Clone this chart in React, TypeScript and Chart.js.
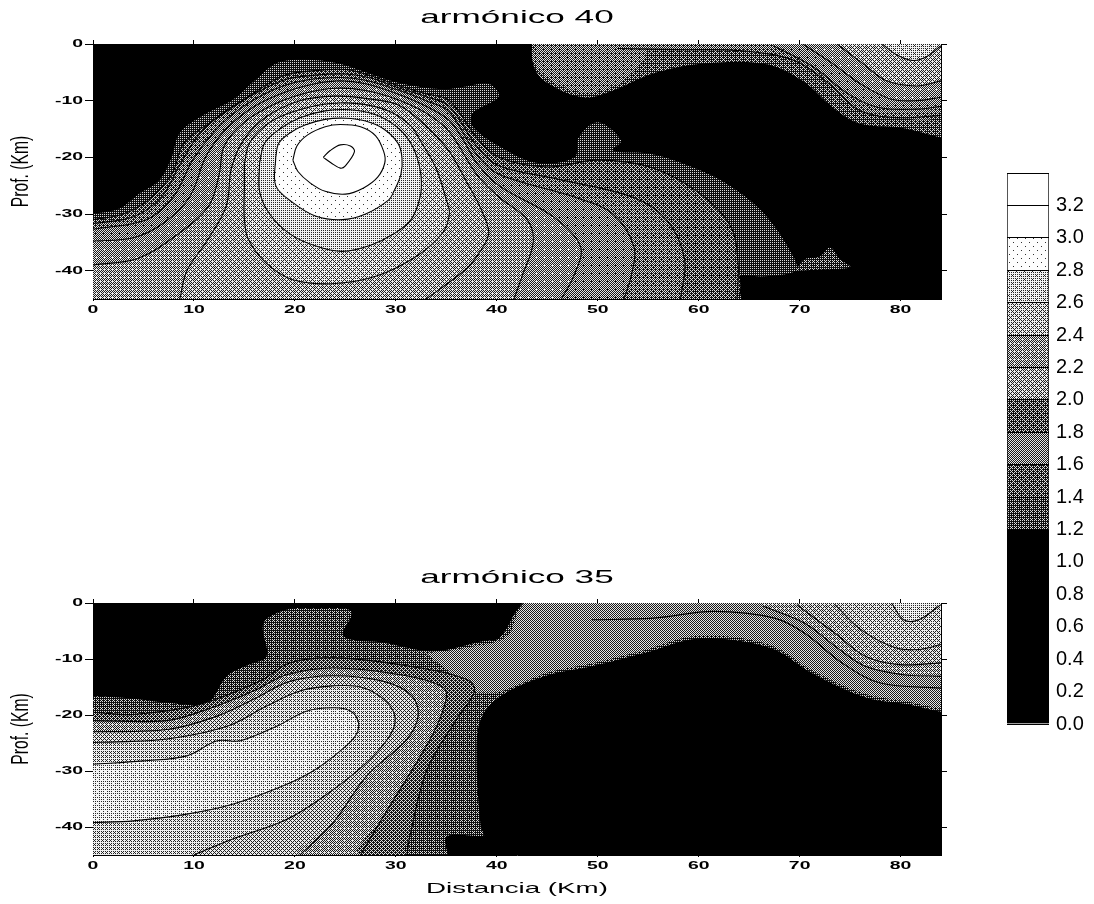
import React, { useEffect, useRef } from "react";
import { Chart, registerables } from "chart.js";

Chart.register(...registerables);

type P = [number, number];

// ---------- ticks / scale ----------
const xTickValues = [0, 10, 20, 30, 40, 50, 60, 70, 80];
const yTickValues = [-40, -30, -20, -10, 0];
const barLevels = [0, 0.2, 0.4, 0.6, 0.8, 1.0, 1.2, 1.4, 1.6, 1.8, 2.0, 2.2, 2.4, 2.6, 2.8, 3.0, 3.2, 3.4];
const barGrays = [0, 0, 0, 0, 0, 0, 0.3, 0.35, 0.5, 0.35, 0.6, 0.55, 0.65, 0.72, 0.97, 1, 1];

// ---------- armónico 40 : contours ----------
const a40Frame: P[] = [[0, 0], [84, 0], [84, -45], [0, -45]];
const a40Edge: P[] = [[-2, -30.2], [2.4, -29.2], [4.5, -26.5], [6.6, -24], [7.8, -20], [8.6, -15.7], [11, -12.5], [13.9, -9.8], [16, -6.5], [18.2, -3.4], [21, -2.8], [24.2, -3.4], [27, -5], [30.3, -6.9], [34.6, -8], [37, -7.5], [39.2, -7], [40.2, -9.2], [37.6, -12.2], [37.6, -14.5], [40.2, -18], [44, -21], [47.7, -20], [48.1, -16.5], [50, -13.8], [52.3, -17], [51.5, -18.8], [55.3, -19.4], [59, -21.5], [62.8, -24.7], [66.5, -30], [69.4, -37.6], [69.6, -40], [66.5, -41], [63.9, -41.2], [64, -47], [-3, -48]];
const a40K: P[] = [[0, -31], [3, -30], [5.5, -27.5], [7.8, -23], [9, -17.5], [11.5, -14], [14, -11], [16.5, -8], [19, -5.5], [22, -4.7], [25, -4.5], [27.5, -5.6], [30, -7.2], [33, -8.8], [35.3, -10], [38, -16.5], [40.2, -20], [45, -21.7], [50, -20.5], [55.3, -21.8], [60.2, -26.5], [63.2, -32.3], [63.9, -38.8], [63.8, -45]];
const a40J: P[] = [[0, -31.7], [4, -30.5], [6.8, -27], [8.7, -21], [10.5, -16], [13, -12], [16, -8.8], [19, -6.3], [22, -5.5], [25, -5.3], [27.5, -6], [30, -7.6], [33, -9.3], [35.3, -11], [38, -18], [40.2, -21.5], [45.9, -23.8], [53.4, -27], [56.8, -31], [58.6, -38], [58.2, -45]];
const a40I: P[] = [[0, -32.7], [5.3, -31], [8, -26.9], [9.9, -20.4], [12, -15.5], [14.5, -11.5], [18, -8], [21, -6.4], [24.5, -5.9], [27, -6.4], [30, -8], [33, -10], [35.3, -12], [38, -19.5], [40.2, -23], [47.7, -27], [51.5, -30], [53.6, -35.9], [53.3, -41], [52.6, -45]];
const a40H: P[] = [[0, -34.8], [4, -34.2], [7, -31.6], [9.6, -26.9], [11.2, -19.8], [13.2, -15], [16, -11], [19, -8.5], [22, -7], [24.5, -6.5], [27, -7], [30, -8.7], [33, -11], [35.3, -13.5], [36.7, -17], [38, -21], [40.2, -25], [45.6, -30.5], [48.3, -35.8], [47.6, -41], [46.4, -45]];
const a40G: P[] = [[0, -39], [4.5, -37.8], [8.6, -33.3], [11.5, -28.5], [12.5, -23], [13, -18], [15, -13.8], [18, -10.6], [21, -8.7], [24, -7.8], [27, -8.2], [30, -9.7], [33, -12.2], [35.3, -15.5], [38, -23], [40.2, -27], [43, -31], [43.6, -35], [42.5, -41], [41.7, -45]];
const a40F: P[] = [[8.6, -45], [9.3, -40], [11.2, -35], [13.2, -28.6], [13.7, -22], [14.9, -17], [17.2, -12.8], [20.5, -10], [24, -9.2], [27, -9.6], [30.3, -10.8], [33, -14.5], [35.3, -19], [36.9, -24], [38.4, -29], [39.2, -33.4], [38.2, -37], [36.9, -39.8], [33, -45]];
const a40E: P[] = [[15, -21], [15.5, -17.5], [17, -14.5], [19, -12.5], [22, -10.9], [24.5, -10.4], [27, -10.7], [29.5, -12], [31.5, -14.5], [32.4, -17], [34, -22], [35, -27.5], [35.3, -30], [34.6, -33.4], [32, -37.5], [28, -41], [23.7, -42.3], [19.8, -41.6], [17.2, -38.7], [15.4, -34.5], [15, -31], [15, -25], [15, -21]];
const a40D: P[] = [[16.5, -21], [17, -17.5], [18.5, -15], [20.5, -13], [23, -11.8], [25.5, -11.6], [28, -12.5], [30, -14.5], [31.3, -17], [32.1, -20], [32.5, -23.4], [32.4, -27], [31.5, -31], [29.8, -33.5], [27.5, -35.5], [24.7, -36.6], [22, -35.6], [19.5, -33.5], [17.5, -30], [16.5, -26], [16.5, -21]];
const a40C: P[] = [[18.1, -20], [18.4, -17.5], [19.5, -15.7], [21, -14.3], [23, -13.3], [25, -13.1], [27, -13.6], [28.8, -15], [30.2, -17.5], [30.6, -20], [30.5, -23], [29.8, -26], [29.3, -27.5], [27, -30], [24.7, -31], [22.1, -30.4], [19.8, -28], [18.1, -25], [18.1, -20]];
const a40B: P[] = [[19.8, -20.5], [20.2, -18], [21.3, -16], [23, -14.6], [24.5, -14.2], [26.5, -14.6], [28, -16.2], [28.8, -19], [28.9, -21], [28.2, -23.5], [26.8, -25.4], [25, -26.5], [23, -26], [21.5, -24.5], [20.3, -22.5], [19.8, -20.5]];
const a40A: P[] = [[22.8, -20], [23.5, -18.8], [24.5, -17.8], [25.5, -18], [25.9, -19], [25, -21.5], [24.5, -21.9], [23.6, -21], [22.8, -20]];
const a40Tip: P[] = [[69.6, -40], [70.5, -38], [72, -37.5], [73, -35.9], [74, -38], [75, -39.4], [72, -39.8]];
const a40BandEdge: P[] = [[43.5, 2], [43.6, -3.5], [44.7, -6.5], [48.5, -9.4], [51.5, -8.2], [55.3, -5.3], [60.2, -3.5], [66.5, -3.5], [70.3, -6.5], [73.3, -11.2], [75.9, -14], [79.7, -14.7], [87, -16], [87, 3]];
const a40Blob: P[] = [[44, 1], [43.6, -3], [45, -6], [48.5, -8.5], [51.5, -7.5], [54, -4], [55.5, 1]];
const a40R5: P[] = [[52, -0.8], [58, -1], [64.3, -1.2], [69.6, -3], [73.3, -7.6], [76, -11.8], [79.7, -13], [84, -12.6]];
const a40R4: P[] = [[67.4, -0.3], [71.4, -4.1], [74.8, -8.8], [77.8, -11.2], [81.6, -11.5], [84, -11]];
const a40R3: P[] = [[70.3, 0], [73.3, -3.5], [76, -7], [79, -9.7], [81.6, -10], [84, -9.4]];
const a40R2: P[] = [[73.7, 0], [76.3, -3.5], [78.6, -6.5], [81.6, -7.4], [84, -6.5]];
const a40R1: P[] = [[78.2, 0], [79.5, -1.8], [81.2, -2.9], [82.5, -2.3], [84, -0.3]];

// ---------- armónico 35 : contours ----------
const a35Frame: P[] = [[0, 0], [84, 0], [84, -45], [0, -45]];
const a35Edge: P[] = [[-2, -16.4], [3.5, -17], [7.3, -17.8], [11.3, -17.8], [13.3, -13], [15.5, -11], [17.2, -9.5], [16.9, -3.6], [19.2, -1.2], [22, -1], [25.6, -1.5], [24.8, -5.9], [28.8, -7.1], [33.7, -8.6], [38.7, -6.8], [40.3, -6.2], [42.3, -0.6], [44.5, 2], [87, 2], [87, -18.6], [79.7, -17.8], [76.1, -16.6], [71.2, -12.5], [67.5, -8.3], [63, -6.5], [59.2, -6.5], [54.7, -8.9], [49.4, -11.3], [44.9, -13], [40.4, -16.6], [38.4, -20.8], [38, -28], [38.4, -40], [38.7, -41.5], [35, -41.8], [35, -47], [-3, -47]];
const a35Band: P[] = [[38, -16], [40.4, -15.8], [44.9, -12.5], [49.4, -10.8], [54.7, -8.4], [59.2, -6], [63, -6], [67.5, -7.8], [71.2, -12], [76.1, -16], [79.7, -17.3], [87, -18], [87, 2], [44.5, 2], [42.3, -1], [41, -6], [37, -8], [33, -9]];
const a35P5: P[] = [[0, -19.5], [4, -19.9], [10.6, -18.1], [16.6, -13.9], [19.5, -10.7], [23.8, -9.8], [30.4, -11], [37, -13.6], [37.8, -15.7], [36, -20.8], [33.1, -29.7], [31.4, -41.5], [31.1, -45]];
const a35P4: P[] = [[0, -21], [7.3, -21], [11.3, -19], [15.9, -15.7], [19.2, -12.8], [23.8, -11.6], [30.4, -12.8], [34.7, -15.1], [34.9, -17.8], [33.4, -24.3], [28.8, -38], [26.5, -45]];
const a35P3: P[] = [[0, -23], [7.3, -22.6], [12.3, -20.2], [15.9, -17.2], [19.5, -14], [23.8, -13], [28.8, -14], [31.6, -16.6], [32.2, -20.2], [31.1, -24.3], [27.1, -30.9], [23.8, -39.2], [20.5, -45]];
const a35P2: P[] = [[0, -24.9], [2.4, -24.8], [7.3, -24.3], [13.3, -22], [17.2, -18.4], [20.5, -15.7], [23.8, -14.8], [26.5, -15], [28.8, -17.2], [29.9, -20.2], [29.4, -23.7], [26.8, -29], [22.5, -35], [18.9, -38.9], [13.9, -42.1], [10, -45]];
const a35P1: P[] = [[0, -28.8], [5, -28.2], [9.3, -27.3], [12.3, -24.6], [14.6, -24.6], [18.2, -22], [21.2, -19.3], [23.8, -18.7], [25.5, -19.3], [26.3, -21.4], [26, -23.7], [24.5, -26.4], [21.8, -30], [18.9, -32.6], [13.9, -35.9], [9.3, -37.7], [4, -38.9], [0, -39.2]];
const a35T5: P[] = [[49.4, -3], [55.5, -2.7], [61.5, -1.5], [67.5, -2.7], [70.5, -5.4], [74.2, -10.7], [78, -14.3], [84, -15.2]];
const a35T4: P[] = [[66.4, -0.6], [70.5, -3.6], [73.5, -7.7], [76.5, -11.3], [80.3, -12.8], [84, -13.1]];
const a35T3: P[] = [[69.7, -0.3], [73.5, -5.4], [76.5, -9.5], [79.9, -11], [84, -10.7]];
const a35T2: P[] = [[73.5, -0.3], [76.1, -4.8], [79.5, -8], [81.8, -8.3], [84, -7.4]];
const a35T1: P[] = [[79.1, 0], [80.3, -3], [81.8, -3], [84, -0.3]];

// closures beyond the frame (clipped away by the chart area)
const beyondBottomLeft: P[] = [[60, -50], [-6, -50], [-6, -30]];
const beyondTopBack = (x: number): P[] => [[90, -1], [90, 6], [x, 6]];

type Layer = { pts: P[]; close: P[]; gray: number; line: boolean };
const L = (pts: P[], gray: number, line = true, close: P[] = []): Layer => ({ pts, gray, line, close });

const layers40: Layer[] = [
  L(a40Frame, 0, false),
  L(a40Edge, 0.25, false),
  L(a40Tip, 0.3, false),
  L(a40BandEdge, 0.33, false),
  L(a40Blob, 0.45, false),
  L(a40K, 0.36, true, beyondBottomLeft),
  L(a40J, 0.42, true, beyondBottomLeft),
  L(a40I, 0.48, true, beyondBottomLeft),
  L(a40H, 0.52, true, beyondBottomLeft),
  L(a40G, 0.56, true, beyondBottomLeft),
  L(a40F, 0.6),
  L(a40E, 0.66),
  L(a40D, 0.75),
  L(a40C, 0.97),
  L(a40B, 1),
  L(a40A, 1),
  L(a40R5, 0.42, true, beyondTopBack(52)),
  L(a40R4, 0.48, true, beyondTopBack(67.4)),
  L(a40R3, 0.52, true, beyondTopBack(70.3)),
  L(a40R2, 0.6, true, beyondTopBack(73.7)),
  L(a40R1, 0.72, true, beyondTopBack(78.2)),
];

const layers35: Layer[] = [
  L(a35Frame, 0, false),
  L(a35Edge, 0.3, false),
  L(a35Band, 0.5, false),
  L(a35P5, 0.38, true, beyondBottomLeft),
  L(a35P4, 0.55, true, beyondBottomLeft),
  L(a35P3, 0.62, true, beyondBottomLeft),
  L(a35P2, 0.68, true, beyondBottomLeft),
  L(a35P1, 0.8),
  L(a35T5, 0.5, true, beyondTopBack(49.4)),
  L(a35T4, 0.56, true, beyondTopBack(66.4)),
  L(a35T3, 0.6, true, beyondTopBack(69.7)),
  L(a35T2, 0.65, true, beyondTopBack(73.5)),
  L(a35T1, 0.74, true, beyondTopBack(79.1)),
];

// ---------- rendering helpers ----------
const BAYER = [
  [0, 48, 12, 60, 3, 51, 15, 63],
  [32, 16, 44, 28, 35, 19, 47, 31],
  [8, 56, 4, 52, 11, 59, 7, 55],
  [40, 24, 36, 20, 43, 27, 39, 23],
  [2, 50, 14, 62, 1, 49, 13, 61],
  [34, 18, 46, 30, 33, 17, 45, 29],
  [10, 58, 6, 54, 9, 57, 5, 53],
  [42, 26, 38, 22, 41, 25, 37, 21],
];

function halftone(ctx: CanvasRenderingContext2D, gray: number): CanvasPattern | string {
  if (gray <= 0) return "#000";
  if (gray >= 1) return "#fff";
  const tile = document.createElement("canvas");
  tile.width = 8;
  tile.height = 8;
  const t = tile.getContext("2d")!;
  const img = t.createImageData(8, 8);
  for (let r = 0; r < 8; r++) {
    for (let c = 0; c < 8; c++) {
      const on = (BAYER[r][c] + 0.5) / 64 < gray ? 1 : 0;
      const v = Math.round(255 * (0.8 * on + 0.2 * gray));
      const i = (r * 8 + c) * 4;
      img.data[i] = img.data[i + 1] = img.data[i + 2] = v;
      img.data[i + 3] = 255;
    }
  }
  t.putImageData(img, 0, 0);
  return ctx.createPattern(tile, "repeat")!;
}

// The reference's labels are optically stretched: widen upright text, condense rotated text.
function stretchText(ctx: CanvasRenderingContext2D, wide: number, narrow: number) {
  const orig = ctx.fillText.bind(ctx);
  (ctx as any).fillText = (s: string, x: number, y: number) => {
    const m = ctx.getTransform();
    const k = Math.abs(m.b) > 0.01 ? narrow : wide;
    ctx.save();
    ctx.translate(x, y);
    ctx.scale(k, 1);
    orig(s, 0, 0);
    ctx.restore();
  };
}

const toXY = (pts: P[]) => pts.map(([x, y]) => ({ x, y }));
const FONT = "'Liberation Sans', Arial, sans-serif";

function makePanel(
  canvas: HTMLCanvasElement,
  title: string,
  layers: Layer[],
  xTitle: string | null,
  bottomH: number,
  titleTop: number
) {
  const ctx = canvas.getContext("2d")!;
  stretchText(ctx, 1.85, 0.68);
  const n = layers.length;
  const fills = layers.map((l, i) => ({
    data: toXY([...l.pts, ...l.close]),
    backgroundColor: halftone(ctx, l.gray),
    fill: "shape",
    borderWidth: 0,
    pointRadius: 0,
    tension: l.gray === 0 ? 0 : 0.35,
    order: 3 * n - i,
  }));
  const lines = layers
    .filter((l) => l.line)
    .map((l, i) => ({
      data: toXY(l.pts),
      borderColor: "#000",
      borderWidth: 1.1,
      pointRadius: 0,
      tension: 0.35,
      fill: false,
      order: -i,
    }));
  const dashBorder = { color: "#000", width: 1, dash: [5, 2] };
  const tickGrid = (len: number) => ({
    display: true,
    drawOnChartArea: false,
    drawTicks: true,
    tickLength: len,
    color: "#000",
  });
  return new Chart(ctx, {
    type: "line",
    data: { datasets: [...fills, ...lines] as any },
    options: {
      animation: false,
      responsive: false,
      devicePixelRatio: 1,
      layout: { padding: 0 },
      plugins: {
        legend: { display: false },
        tooltip: { enabled: false },
        title: {
          display: true,
          text: title,
          fullSize: false,
          color: "#000",
          font: { family: FONT, size: 19, weight: "normal" },
          padding: { top: titleTop, bottom: 17.2 - titleTop },
        },
      },
      scales: {
        x: {
          type: "linear",
          position: "bottom",
          min: 0,
          max: 84,
          border: dashBorder,
          grid: tickGrid(2),
          afterBuildTicks: (s: any) => {
            s.ticks = xTickValues.map((value) => ({ value }));
          },
          afterFit: (s: any) => {
            s.height = bottomH;
          },
          ticks: {
            autoSkip: false,
            maxRotation: 0,
            padding: 3,
            color: "#000",
            font: { family: FONT, size: 10.5, weight: "bold" },
          },
          title: xTitle
            ? {
                display: true,
                text: xTitle,
                color: "#000",
                font: { family: FONT, size: 15 },
                padding: { top: 0, bottom: 6 },
              }
            : { display: false },
        },
        xTop: {
          type: "linear",
          position: "top",
          min: 0,
          max: 84,
          border: { display: false },
          grid: tickGrid(4),
          afterBuildTicks: (s: any) => {
            s.ticks = xTickValues.map((value) => ({ value }));
          },
          afterFit: (s: any) => {
            s.height = 4;
          },
          ticks: { display: false },
        },
        y: {
          type: "linear",
          position: "left",
          min: -45,
          max: 0,
          border: dashBorder,
          grid: tickGrid(8),
          afterBuildTicks: (s: any) => {
            s.ticks = yTickValues.map((value) => ({ value }));
          },
          afterFit: (s: any) => {
            s.width = 93;
          },
          ticks: {
            autoSkip: false,
            padding: 2,
            color: "#000",
            font: { family: FONT, size: 10.5, weight: "bold" },
          },
          title: {
            display: true,
            text: "Prof. (Km)",
            color: "#000",
            font: { family: FONT, size: 23 },
            padding: { top: 8, bottom: 0 },
          },
        },
        yRight: {
          type: "linear",
          position: "right",
          min: -45,
          max: 0,
          border: dashBorder,
          grid: tickGrid(6),
          afterBuildTicks: (s: any) => {
            s.ticks = yTickValues.map((value) => ({ value }));
          },
          afterFit: (s: any) => {
            s.width = 11;
          },
          ticks: { display: false },
        },
      },
    } as any,
  });
}

function makeColorBar(canvas: HTMLCanvasElement) {
  const ctx = canvas.getContext("2d")!;
  const datasets = barGrays.map((g, i) => ({
    data: [[barLevels[i], barLevels[i + 1]]],
    backgroundColor: halftone(ctx, g),
    borderColor: "#000",
    borderWidth: { left: 1, right: 1, top: 0, bottom: 0 },
    borderSkipped: false,
    grouped: false,
    barPercentage: 1,
    categoryPercentage: 1,
  }));
  return new Chart(ctx, {
    type: "bar",
    data: { labels: ["escala"], datasets: datasets as any },
    options: {
      animation: false,
      responsive: false,
      devicePixelRatio: 1,
      layout: { padding: { left: 17, top: 0, bottom: 0, right: 0 } },
      plugins: { legend: { display: false }, tooltip: { enabled: false } },
      scales: {
        x: { display: false },
        y: {
          position: "right",
          min: 0,
          max: 3.4,
          afterBuildTicks: (s: any) => {
            s.ticks = barLevels.map((value) => ({ value }));
          },
          afterFit: (s: any) => {
            s.width = 45;
          },
          border: { display: false },
          grid: { z: 1, color: "#000", lineWidth: 1, drawTicks: false },
          ticks: {
            autoSkip: false,
            padding: 7,
            color: "#000",
            font: { family: FONT, size: 20 },
            callback: (v: any) => (Number(v) > 3.3 ? "" : Number(v).toFixed(1)),
          },
        },
      },
    } as any,
  });
}

export default function App() {
  const topRef = useRef<HTMLCanvasElement>(null);
  const botRef = useRef<HTMLCanvasElement>(null);
  const barRef = useRef<HTMLCanvasElement>(null);

  useEffect(() => {
    const charts = [
      makePanel(topRef.current!, "armónico 40", layers40, null, 21, 6),
      makePanel(botRef.current!, "armónico 35", layers35, "Distancia (Km)", 49, 7.5),
      makeColorBar(barRef.current!),
    ];
    return () => charts.forEach((c) => c.destroy());
  }, []);

  const abs = (left: number, top: number): React.CSSProperties => ({
    position: "absolute",
    left,
    top,
    display: "block",
  });

  return (
    <div style={{ position: "absolute", left: 0, top: 0, width: 1094, height: 904, background: "#fff" }}>
      <canvas ref={topRef} width={952} height={320} style={abs(0, 0)} />
      <canvas ref={botRef} width={952} height={345} style={abs(0, 559)} />
      <canvas ref={barRef} width={104} height={589} style={abs(990, 154)} />
    </div>
  );
}
